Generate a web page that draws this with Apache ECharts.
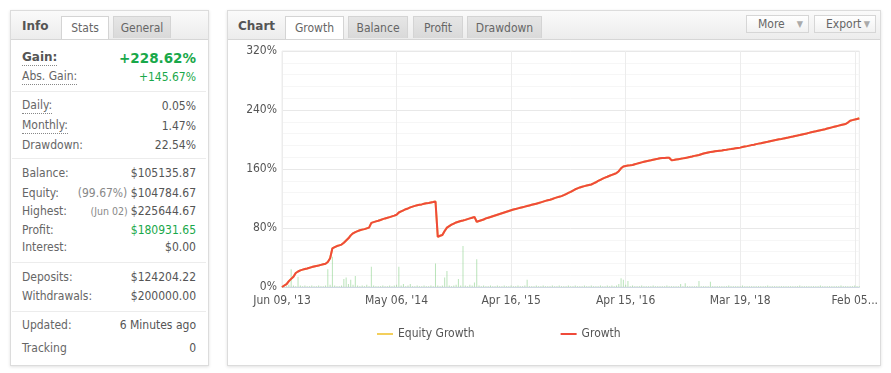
<!DOCTYPE html>
<html><head><meta charset="utf-8">
<script src="https://cdn.jsdelivr.net/npm/echarts@6/dist/echarts.min.js"></script>
<style>
html,body{margin:0;padding:0;background:#fff;width:891px;height:373px;overflow:hidden;font-family:"DejaVu Sans Condensed","Liberation Sans",Arial,sans-serif;font-size:12px;color:#666;}
.panel{position:absolute;background:#fff;border:1px solid #dcdcdc;box-shadow:0 1px 3px rgba(0,0,0,0.12);box-sizing:border-box;}
.head{position:absolute;left:0;top:0;right:0;height:28px;background:linear-gradient(#fafafa,#ececec);border-bottom:1px solid #d6d6d6;}
.ttl{position:absolute;top:8px;font-family:"DejaVu Sans",sans-serif;font-weight:bold;font-size:12px;color:#555;}
.tab{position:absolute;top:5px;height:22px;line-height:22px;text-align:center;font-size:12px;color:#666;box-sizing:border-box;border:1px solid #d4d4d4;border-bottom:none;}
.tab.on{background:#fff;height:23px;}
.tab.off{background:linear-gradient(#e6e6e6,#d9d9d9);}
.btn{position:absolute;top:4px;height:18px;line-height:17px;font-size:12px;color:#666;background:linear-gradient(#fff,#f1f1f1);border:1px solid #d6d6d6;box-sizing:border-box;padding-left:11px;}
.btn span{position:absolute;right:5px;top:0;color:#aaa;font-size:9px;}
.row{position:absolute;left:22px;width:174px;height:16px;line-height:16px;display:flex;justify-content:space-between;white-space:nowrap;}
.lab{color:#666;}
.val{color:#555;}
.dot{border-bottom:1px dotted #888;line-height:14px;}
.sep{position:absolute;left:12px;width:194px;height:1px;background:#ececec;}
.green{color:#19a84a;}
.sub{color:#888;}
</style></head>
<body>
<div class="panel" style="left:10px;top:10px;width:199px;height:356px;">
  <div class="head">
    <div class="ttl" style="left:11px;">Info</div>
    <div class="tab on" style="left:50px;width:48px;">Stats</div>
    <div class="tab off" style="left:102px;width:58px;">General</div>
  </div>
</div>
<div id="info"></div>
<div class="panel" style="left:227px;top:10px;width:654px;height:356px;">
  <div class="head">
    <div class="ttl" style="left:10px;">Chart</div>
    <div class="tab on" style="left:57px;width:59px;">Growth</div>
    <div class="tab off" style="left:120px;width:60px;">Balance</div>
    <div class="tab off" style="left:185px;width:50px;">Profit</div>
    <div class="tab off" style="left:239px;width:75px;">Drawdown</div>
    <div class="btn" style="left:518px;width:63px;">More<span>&#9660;</span></div>
    <div class="btn" style="left:586px;width:62px;">Export<span>&#9660;</span></div>
  </div>
</div>
<div id="chart" style="position:absolute;left:228px;top:39px;width:653px;height:326px;"></div>
<script>
// ---- info panel data ----
const infoRows = [
  {y:58, label:"Gain:", value:"+228.62%", kind:"gain"},
  {y:77, label:"Abs. Gain:", value:"+145.67%", kind:"green", dot:true},
  {y:106, label:"Daily:", value:"0.05%", dot:true},
  {y:126, label:"Monthly:", value:"1.47%", dot:true},
  {y:145, label:"Drawdown:", value:"22.54%"},
  {y:173, label:"Balance:", value:"$105135.87"},
  {y:193, label:"Equity:", pre:"(99.67%) ", value:"$104784.67"},
  {y:211, label:"Highest:", pre:"(Jun 02) ", value:"$225644.67", small:true},
  {y:230, label:"Profit:", value:"$180931.65", kind:"green"},
  {y:247, label:"Interest:", value:"$0.00"},
  {y:277, label:"Deposits:", value:"$124204.22"},
  {y:296, label:"Withdrawals:", value:"$200000.00"},
  {y:325, label:"Updated:", value:"6 Minutes ago"},
  {y:348, label:"Tracking", value:"0"}
];
const infoSeparators = [91, 158, 262, 311];

// ---- chart data ----
const tickLabels = ["Jun 09, '13", "May 06, '14", "Apr 16, '15", "Apr 15, '16", "Mar 19, '18", "Feb 05..."];
const growth = [
  0,2,4,8,11,14,19,21,22.5,23.5,
  24.5,25.2,26,27,27.8,28.5,29.2,30,30.8,31.6,
  34,39,52.5,54,55.5,56.5,57.5,60,63,66,
  70,72.8,74.5,75.8,77,77.8,78.5,79.5,80.5,87,
  88,89,89.8,90.8,92,93,93.8,94.8,95.8,96.8,
  98,101,102.5,104,105.5,106.5,108,109,110,110.8,
  111.5,112,112.8,113.5,114,114.6,115.2,116,68,69.5,
  70.5,76,80.5,82.5,84.5,86,87.5,88.5,89.5,90.2,
  91,92,93,94,95,88.5,89.5,90.5,91.5,93,
  94,95,96,97,98,99,100,101,102,103,
  104,105,105.8,106.6,107.4,108.2,109,109.8,110.6,111.4,
  112.2,113,113.8,114.8,115.8,116.8,117.6,118.4,119.4,120.5,
  121.5,122.4,123.2,124.5,126,127.5,129,130.8,132.5,133.8,
  135,136,136.8,137.6,138.3,139,140.5,142,143.8,145.4,
  147,148.3,149.5,150.8,152,153.2,154.5,157,161,163.5,
  164.2,164.6,165,165.5,166.4,167.3,168.2,169,169.8,170.5,
  171.2,171.8,172.5,173.2,173.8,174.5,174.8,175,175.2,175.3,
  172,172.3,172.8,173.3,173.8,174.4,175,175.6,176.3,177,
  177.8,178.4,179,180,181,181.8,182.5,183,183.5,184,
  184.4,184.8,185.2,185.7,186.1,186.6,187,187.5,188,188.5,
  189,189.7,190.4,191,191.7,192.4,193,193.7,194.4,195,
  195.7,196.4,197,197.7,198.4,199,199.6,200.2,200.8,201.5,
  202.1,202.7,203.4,204,204.7,205.3,206,206.8,207.5,208.2,
  209,209.7,210.4,211.1,211.9,212.6,213.3,214,214.8,215.6,
  216.4,217.2,218,218.8,219.6,220.3,221,223,225.5,226.3,
  227,227.8,228.6
];
const equityGrowth = [
  0,2,4,8,11,14,19,21,22.5,23.5,
  24.5,25.2,26,27,27.8,28.5,29.2,30,30.8,31.6,
  34,39,52.5,54,55.5,56.5,57.5,60,63,66,
  70,72.8,74.5,75.8,77,77.8,78.5,79.5,80.5,87,
  88,89,89.8,90.8,92,93,93.8,94.8,95.8,96.8,
  98,101,102.5,104,105.5,106.5,108,109,110,110.8,
  111.5,112,112.8,113.5,114,114.6,115.2,116,68,69.5,
  70.5,76,80.5,82.5,84.5,86,87.5,88.5,89.5,90.2,
  91,92,93,94,95,88.5,89.5,90.5,91.5,93,
  94,95,96,97,98,99,100,101,102,103,
  104,105,105.8,106.6,107.4,108.2,109,109.8,110.6,111.4,
  112.2,113,113.8,114.8,115.8,116.8,117.6,118.4,119.4,120.5,
  121.5,122.4,123.2,124.5,126,127.5,129,130.8,132.5,133.8,
  135,136,136.8,137.6,138.3,139,140.5,142,143.8,145.4,
  147,148.3,149.5,150.8,152,153.2,154.5,157,161,163.5,
  164.2,164.6,165,165.5,166.4,167.3,168.2,169,169.8,170.5,
  171.2,171.8,172.5,173.2,173.8,174.5,174.8,175,175.2,175.3,
  172,172.3,172.8,173.3,173.8,174.4,175,175.6,176.3,177,
  177.8,178.4,179,180,181,181.8,182.5,183,183.5,184,
  184.4,184.8,185.2,185.7,186.1,186.6,187,187.5,188,188.5,
  189,189.7,190.4,191,191.7,192.4,193,193.7,194.4,195,
  195.7,196.4,197,197.7,198.4,199,199.6,200.2,200.8,201.5,
  202.1,202.7,203.4,204,204.7,205.3,206,206.8,207.5,208.2,
  209,209.7,210.4,211.1,211.9,212.6,213.3,214,214.8,215.6,
  216.4,217.2,218,218.8,219.6,220.3,221,223,225.5,226.3,
  227,227.8,229.2
];
const volumeBars = [
  1,2,1,3,24,2,1,14,2,1,
  2,1,1,2,1,1,2,1,1,2,
  24,3,41,2,1,1,2,11,13,4,
  10,3,15,2,1,2,1,3,1,27.5,
  2,1,1,1,2,1,1,2,1,2,
  3,27.5,2,4,1,2,4,1,1,2,
  1,1,2,1,1,2,1,32,2,1,
  2,13,21.7,2,1,2,3,11,2,55.6,
  2,1,3,2,6,37.5,2,1,2,1,
  1,2,1,1,2,1,1,2,1,1,
  2,1,1,2,1,1,2,10,1,1,
  1,2,1,1,2,1,1,1,2,1,
  1,2,1,1,1,2,1,1,2,1,
  1,1,2,1,1,2,1,1,1,2,
  1,1,2,1,2,1,2,4,12,10,
  3,8,1,2,1,1,1,2,1,1,
  1,1,2,1,1,1,1,1,2,1,
  1,1,1,1,4,1,5,1,1,1,
  1,1,8,1,1,1,1,7,1,1,
  1,1,1,1,1,2,1,1,1,1,
  1,2,1,1,1,1,1,1,1,1,
  1,1,2,1,1,1,1,1,1,1,
  1,1,1,1,1,1,2,1,1,1,
  1,1,1,1,1,2,1,1,1,1,
  1,1,1,1,2,1,1,1,1,1,
  2,1,1
];
const labelStep = 50;
const yTicks = {min:0, max:320, interval:80};

// build info panel
const info = document.getElementById('info');
infoRows.forEach(r => {
  const d = document.createElement('div');
  d.className = 'row';
  d.style.top = (r.y - 8) + 'px';
  let labStyle = '';
  let valStyle = '';
  if (r.kind === 'gain') {
    labStyle = 'font-family:"DejaVu Sans",sans-serif;font-weight:bold;font-size:12px;color:#555;';
    valStyle = 'font-family:"DejaVu Sans",sans-serif;font-weight:bold;font-size:13.5px;color:#19a84a;';
  }
  const dotCls = (r.dot || r.kind === 'gain') ? ' dot' : '';
  const valCls = r.kind === 'green' ? 'val green' : 'val';
  const pre = r.pre ? '<span class="sub"' + (r.small ? ' style="font-size:10.5px"' : '') + '>' + r.pre + '</span>' : '';
  d.innerHTML = '<span class="lab' + dotCls + '" style=\'' + labStyle + '\'>' + r.label + '</span>' +
                '<span class="' + valCls + '" style=\'' + valStyle + '\'>' + pre + r.value + '</span>';
  info.appendChild(d);
});
infoSeparators.forEach(y => {
  const s = document.createElement('div');
  s.className = 'sep';
  s.style.top = y + 'px';
  info.appendChild(s);
});

// categories: tick labels every labelStep points
const categories = growth.map((v, i) => (i % labelStep === 0 ? (tickLabels[i / labelStep] || '') : ''));

const chart = echarts.init(document.getElementById('chart'), null, {renderer: 'canvas'});
chart.setOption({
  animation: false,
  textStyle: {fontFamily: '"DejaVu Sans Condensed","Liberation Sans",Arial,sans-serif'},
  grid: {left: 54, right: 21, top: 12, bottom: 78, show: true, borderColor: '#ececec', borderWidth: 1, backgroundColor: 'transparent'},
  legend: {
    left: 144, top: 284, itemGap: 86, itemWidth: 16, itemHeight: 2, icon: 'rect',
    textStyle: {color: '#555', fontSize: 12, fontFamily: '"DejaVu Sans Condensed","Liberation Sans",Arial,sans-serif'},
    data: [{name: 'Equity Growth'}, {name: 'Growth'}]
  },
  xAxis: {
    type: 'category', data: categories, boundaryGap: false,
    axisLine: {show: true, lineStyle: {color: '#cfd8e3', width: 1}},
    axisTick: {show: false},
    axisLabel: {interval: labelStep - 1, color: '#555', fontSize: 12, margin: 8, hideOverlap: false},
    splitLine: {show: true, interval: labelStep - 1, lineStyle: {color: '#ececec', width: 1}}
  },
  yAxis: {
    type: 'value', min: yTicks.min, max: yTicks.max, interval: yTicks.interval,
    axisLine: {show: false}, axisTick: {show: false},
    axisLabel: {formatter: '{value}%', color: '#555', fontSize: 12, margin: 5},
    splitLine: {show: true, lineStyle: {color: '#e8e8e8', width: 1}},
    minorTick: {show: false, splitNumber: 5},
    minorSplitLine: {show: true, lineStyle: {color: '#f6f6f6', width: 1}}
  },
  series: [
    {name: 'Volume', type: 'bar', data: volumeBars, barWidth: 1, silent: true,
     itemStyle: {color: 'rgba(130,205,130,0.55)'}, z: 1},
    {name: 'Equity Growth', type: 'line', data: equityGrowth, showSymbol: false, symbol: 'none',
     lineStyle: {color: '#f3cf5c', width: 2}, itemStyle: {color: '#f3cf5c'}, z: 2},
    {name: 'Growth', type: 'line', data: growth, showSymbol: false, symbol: 'none',
     lineStyle: {color: '#ef4a3a', width: 2}, itemStyle: {color: '#ef4a3a'}, z: 3}
  ]
});
</script>
</body></html>
